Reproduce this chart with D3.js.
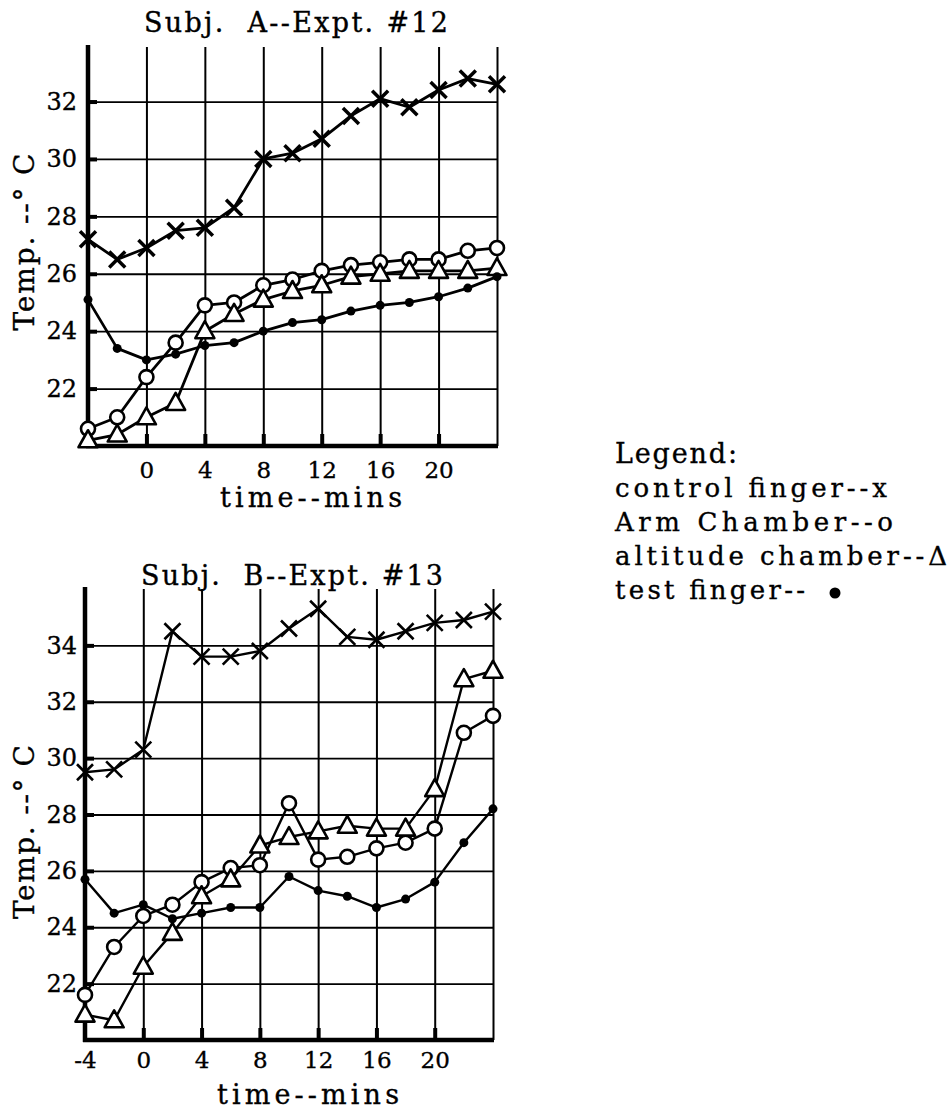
<!DOCTYPE html>
<html lang="en">
<head>
    <meta charset="UTF-8">
    <title>Finger temperature - Subj. A and B</title>
    <script src="https://d3js.org/d3.v7.min.js"></script>
    <style>
        body { margin: 0; background: #fff; }
        svg text { font-family: "DejaVu Serif", "Liberation Serif", serif; fill: #000; stroke: #000; stroke-width: 0.35; white-space: pre; }
    </style>
</head>
<body>
    <svg width="950" height="1110"></svg>
    <script>
        // time axis (minutes), one reading every 2 minutes
        const minutes = [-4, -2, 0, 2, 4, 6, 8, 10, 12, 14, 16, 18, 20, 22, 24];

        // Subj. A -- Expt. #12
        const aControl  = [27.2, 26.5, 26.9, 27.5, 27.6, 28.3, 30.0, 30.2, 30.7, 31.5, 32.1, 31.8, 32.4, 32.8, 32.6];
        const aArm      = [20.6, 21.0, 22.4, 23.6, 24.9, 25.0, 25.6, 25.8, 26.1, 26.3, 26.4, 26.5, 26.5, 26.8, 26.9];
        const aAltitude = [20.2, 20.4, 21.0, 21.5, 24.0, 24.6, 25.1, 25.4, 25.6, 25.9, 26.0, 26.1, 26.1, 26.1, 26.2];
        const aTest     = [25.1, 23.4, 23.0, 23.2, 23.5, 23.6, 24.0, 24.3, 24.4, 24.7, 24.9, 25.0, 25.2, 25.5, 25.9];

        // Subj. B -- Expt. #13
        const bControl  = [29.5, 29.6, 30.3, 34.5, 33.6, 33.6, 33.8, 34.6, 35.3, 34.3, 34.2, 34.5, 34.8, 34.9, 35.2];
        const bArm      = [21.6, 23.3, 24.4, 24.8, 25.6, 26.1, 26.2, 28.4, 26.4, 26.5, 26.8, 27.0, 27.5, 30.9, 31.5];
        const bAltitude = [20.9, 20.7, 22.6, 23.8, 25.1, 25.7, 26.9, 27.2, 27.4, 27.6, 27.5, 27.5, 28.9, 32.8, 33.1];
        const bTest     = [25.7, 24.5, 24.8, 24.3, 24.5, 24.7, 24.7, 25.8, 25.3, 25.1, 24.7, 25.0, 25.6, 27.0, 28.2];

        // ticks
        const gridMinutes = [0, 4, 8, 12, 16, 20, 24];
        const topXTickLabels = [0, 4, 8, 12, 16, 20];
        const bottomXTickLabels = [-4, 0, 4, 8, 12, 16, 20];
        const topYTicks = [22, 24, 26, 28, 30, 32];
        const bottomYTicks = [22, 24, 26, 28, 30, 32, 34];

        // text
        const legendTitle = "Legend:";
        const legendLines = ["control finger--x", "Arm Chamber--o", "altitude chamber--\u0394", "test finger--"];
        const xLabel = "time--mins";
        const yLabel = "Temp. --\u00b0 C";

        const svg = d3.select("svg");
        svg.append("rect").attr("width", 950).attr("height", 1110).attr("fill", "#fff");

        function drawPanel(p) {
            const x = d3.scaleLinear().domain([-4, 24]).range([p.left, p.right]);
            const y = d3.scaleLinear().domain(p.yDomain).range([p.bottom, p.top]);
            const g = svg.append("g");

            // vertical grid lines
            g.append("g")
                .attr("transform", `translate(0,${p.bottom})`)
                .call(d3.axisBottom(x).tickValues(gridMinutes).tickSize(-(p.bottom - p.top)).tickFormat(""))
                .call(a => a.select(".domain").remove())
                .selectAll("line").attr("stroke", "#000").attr("stroke-width", 2);

            // horizontal grid lines
            g.append("g")
                .attr("transform", `translate(${p.left},0)`)
                .call(d3.axisLeft(y).tickValues(p.yTicks).tickSize(-(p.right - p.left)).tickFormat(""))
                .call(a => a.select(".domain").remove())
                .selectAll("line").attr("stroke", "#000").attr("stroke-width", 1.8);

            // short heavy stubs at the axes
            g.append("g")
                .attr("transform", `translate(${p.left},0)`)
                .call(d3.axisLeft(y).tickValues(p.yTicks).tickSize(-9).tickFormat(""))
                .call(a => a.select(".domain").remove())
                .selectAll("line").attr("stroke", "#000").attr("stroke-width", 4);
            g.append("g")
                .attr("transform", `translate(0,${p.bottom})`)
                .call(d3.axisBottom(x).tickValues(gridMinutes.slice(0, -1)).tickSize(-12).tickFormat(""))
                .call(a => a.select(".domain").remove())
                .selectAll("line").attr("stroke", "#000").attr("stroke-width", 4);

            // frame: heavy left and bottom axis
            g.append("line").attr("x1", p.left).attr("x2", p.left).attr("y1", p.top - 2).attr("y2", p.bottom + 2)
                .attr("stroke", "#000").attr("stroke-width", 4.5);
            g.append("line").attr("x1", p.left - 2).attr("x2", p.right + 1).attr("y1", p.bottom).attr("y2", p.bottom)
                .attr("stroke", "#000").attr("stroke-width", 4.5);

            // tick labels
            g.append("g")
                .attr("transform", `translate(${p.left},0)`)
                .call(d3.axisLeft(y).tickValues(p.yTicks).tickSize(0).tickPadding(p.yPad).tickFormat(d => String(d)))
                .call(a => a.select(".domain").remove())
                .selectAll("text").attr("font-size", 24).attr("font-family", null);
            g.append("g")
                .attr("transform", `translate(0,${p.bottom})`)
                .call(d3.axisBottom(x).tickValues(p.xLabels).tickSize(0).tickPadding(p.xPad).tickFormat(d => String(d)))
                .call(a => a.select(".domain").remove())
                .selectAll("text").attr("font-size", 23).attr("font-family", null);

            // titles
            g.append("text").attr("x", p.titleX).attr("y", p.titleY).attr("text-anchor", "middle")
                .attr("font-size", 27).attr("textLength", p.titleW).text(p.title);
            g.append("text").attr("x", p.xLabelX).attr("y", p.xLabelY).attr("text-anchor", "middle")
                .attr("font-size", 27).attr("textLength", 182).text(xLabel);
            g.append("text").attr("transform", `translate(34,${p.yLabelY}) rotate(-90)`).attr("text-anchor", "middle")
                .attr("font-size", 28).attr("textLength", p.yLabelW).text(yLabel);

            // series: lines first, markers on top
            const line = d3.line().x((d, i) => x(minutes[i])).y(d => y(d));
            p.series.forEach(s => {
                g.append("path").datum(s.values).attr("d", line)
                    .attr("fill", "none").attr("stroke", "#000").attr("stroke-width", p.lineWidth)
                    .attr("stroke-linejoin", "round");
            });
            p.series.forEach(s => {
                const m = g.append("g").selectAll("g").data(s.values).join("g")
                    .attr("transform", (d, i) => `translate(${x(minutes[i])},${y(d)})`);
                if (s.shape === "x") {
                    m.append("path").attr("d", "M-8,-8L8,8M-8,8L8,-8")
                        .attr("stroke", "#000").attr("stroke-width", p.xWidth).attr("fill", "none");
                } else if (s.shape === "o") {
                    m.append("circle").attr("r", 7).attr("fill", "#fff").attr("stroke", "#000").attr("stroke-width", 2.6);
                } else if (s.shape === "tri") {
                    m.append("path").attr("d", "M0,-10L9.5,7L-9.5,7Z")
                        .attr("fill", "#fff").attr("stroke", "#000").attr("stroke-width", 2.6).attr("stroke-linejoin", "round");
                } else {
                    m.append("circle").attr("r", 4.5).attr("fill", "#000");
                }
            });
        }

        drawPanel({
            left: 88, right: 497, top: 47, bottom: 446,
            yDomain: [20, 33.9], yTicks: topYTicks, xLabels: topXTickLabels,
            yPad: 11, xPad: 16, lineWidth: 2.8, xWidth: 3.5,
            title: "Subj.  A--Expt. #12", titleX: 296, titleY: 32, titleW: 304,
            xLabelX: 311, xLabelY: 507, yLabelY: 242, yLabelW: 177,
            series: [
                { values: aControl, shape: "x" },
                { values: aArm, shape: "o" },
                { values: aAltitude, shape: "tri" },
                { values: aTest, shape: "dot" }
            ]
        });

        drawPanel({
            left: 85, right: 493, top: 589, bottom: 1040,
            yDomain: [20, 36], yTicks: bottomYTicks, xLabels: bottomXTickLabels,
            yPad: 8, xPad: 12, lineWidth: 2.4, xWidth: 2.6,
            title: "Subj.  B--Expt. #13", titleX: 292, titleY: 585, titleW: 302,
            xLabelX: 308, xLabelY: 1104, yLabelY: 832, yLabelW: 174,
            series: [
                { values: bControl, shape: "x" },
                { values: bArm, shape: "o" },
                { values: bAltitude, shape: "tri" },
                { values: bTest, shape: "dot" }
            ]
        });

        // legend block
        const legendWidths = [272, 278, 332, 190];
        const legend = svg.append("g").attr("transform", "translate(615,463)");
        legend.append("text").attr("font-size", 27).attr("textLength", 122).text(legendTitle);
        legend.selectAll("text.row").data(legendLines).join("text")
            .attr("class", "row")
            .attr("y", (d, i) => 34 * (i + 1))
            .attr("font-size", 26)
            .attr("textLength", (d, i) => legendWidths[i])
            .text(d => d);
        legend.append("circle").attr("cx", 220).attr("cy", 34 * 4 - 6).attr("r", 5.5).attr("fill", "#000");
    </script>
</body>
</html>
